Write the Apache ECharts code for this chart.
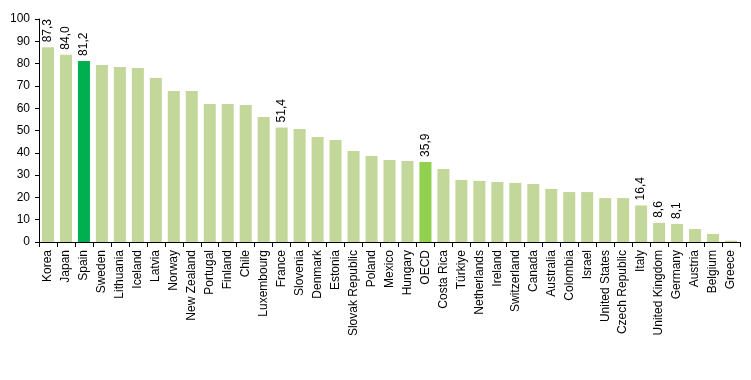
<!DOCTYPE html>
<html>
<head>
<meta charset="utf-8">
<script src="https://cdn.jsdelivr.net/npm/echarts@6/dist/echarts.min.js"></script>
<style>
html,body{margin:0;padding:0;background:#fff;}
#chart{width:751px;height:380px;}
</style>
</head>
<body>
<div id="chart"></div>
<script>
var categories = ["Korea","Japan","Spain","Sweden","Lithuania","Iceland","Latvia","Norway","New Zealand","Portugal","Finland","Chile","Luxembourg","France","Slovenia","Denmark","Estonia","Slovak Republic","Poland","Mexico","Hungary","OECD","Costa Rica","Türkiye","Netherlands","Ireland","Switzerland","Canada","Australia","Colombia","Israel","United States","Czech Republic","Italy","United Kingdom","Germany","Austria","Belgium","Greece"];
var values = [87.3,84.0,81.2,79.4,78.5,78.0,73.5,67.7,67.7,61.9,61.9,61.4,56.0,51.4,50.7,47.1,45.7,40.8,38.6,36.8,36.3,35.9,32.7,27.8,27.4,26.9,26.5,26.0,23.8,22.4,22.4,19.7,19.7,16.4,8.6,8.1,5.8,3.6,0.6];
var labelled = ["Korea","Japan","Spain","France","OECD","Italy","United Kingdom","Germany"];
var highlight = {"Spain":"#00b050","OECD":"#92d050"};
var yTicks = [0,10,20,30,40,50,60,70,80,90,100];

var data = categories.map(function(c,i){
  var item = {value: values[i]};
  if (highlight[c]) item.itemStyle = {color: highlight[c]};
  if (labelled.indexOf(c) >= 0) item.label = {show: true};
  return item;
});

var chart = echarts.init(document.getElementById('chart'));
chart.setOption({
  animation: false,
  grid: {left: 39, right: 11, top: 19, bottom: 138},
  xAxis: {
    type: 'category',
    data: categories,
    boundaryGap: true,
    axisLine: {lineStyle: {color: '#000', width: 1}},
    axisTick: {show: true, length: 5, lineStyle: {color: '#000'}},
    axisLabel: {interval: 0, rotate: 90, margin: 8, color: '#000', fontFamily: 'Liberation Sans', fontSize: 12}
  },
  yAxis: {
    type: 'value',
    min: yTicks[0], max: yTicks[yTicks.length-1], interval: 10,
    axisLine: {show: true, lineStyle: {color: '#000', width: 1}},
    axisTick: {show: true, length: 4, lineStyle: {color: '#000'}},
    splitLine: {show: false},
    axisLabel: {margin: 9, color: '#000', fontFamily: 'Liberation Sans', fontSize: 12}
  },
  series: [{
    type: 'bar',
    data: data,
    barCategoryGap: '33%',
    itemStyle: {color: '#c4d79b'},
    label: {
      show: false,
      position: 'top',
      rotate: 90,
      align: 'left',
      verticalAlign: 'middle',
      distance: 5,
      color: '#000',
      fontFamily: 'Liberation Sans',
      fontSize: 12,
      formatter: function(p){ return p.value.toFixed(1).replace('.', ','); }
    }
  }]
});
</script>
</body>
</html>
